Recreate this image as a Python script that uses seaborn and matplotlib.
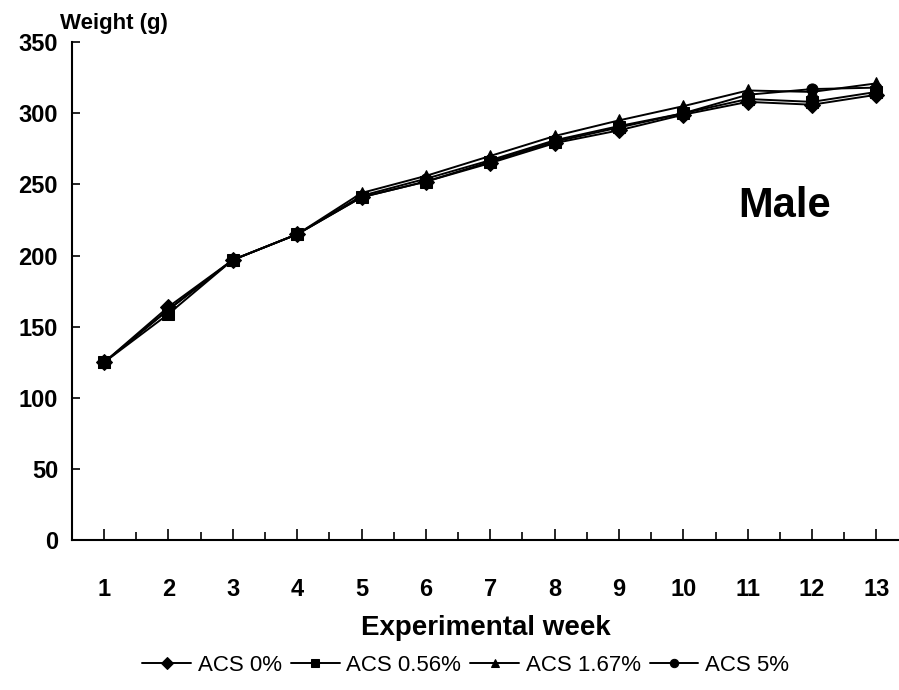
import matplotlib
matplotlib.use("Agg")
import matplotlib.pyplot as plt
import seaborn as sns
import pandas as pd

weeks = list(range(1, 14))
groups = ["ACS 0%", "ACS 0.56%", "ACS 1.67%", "ACS 5%"]
acs_0 = [125, 164, 197, 215, 241, 252, 265, 279, 288, 299, 308, 306, 313]
acs_056 = [125, 159, 197, 215, 241, 252, 266, 280, 290, 300, 310, 308, 315]
acs_167 = [125, 162, 197, 215, 244, 256, 270, 284, 295, 305, 316, 315, 321]
acs_5 = [125, 162, 197, 215, 242, 254, 267, 281, 291, 300, 313, 317, 318]
series = [acs_0, acs_056, acs_167, acs_5]
y_ticks = [0, 50, 100, 150, 200, 250, 300, 350]

rows = []
for g, vals in zip(groups, series):
    for w, v in zip(weeks, vals):
        rows.append({"week": w, "weight": v, "group": g})
df = pd.DataFrame(rows)

sns.set_style("white")
plt.rcParams["font.family"] = ["Liberation Sans", "DejaVu Sans"]
plt.rcParams["text.color"] = "black"
plt.rcParams["axes.labelcolor"] = "black"
plt.rcParams["xtick.color"] = "black"
plt.rcParams["ytick.color"] = "black"

fig = plt.figure(figsize=(8.99, 6.90), dpi=100)
ax = fig.add_axes([0.080, 0.217, 0.92, 0.722])

markers = {"ACS 0%": "D", "ACS 0.56%": "s", "ACS 1.67%": "^", "ACS 5%": "o"}
sns.lineplot(data=df, x="week", y="weight", hue="group", style="group",
             hue_order=groups, style_order=groups,
             palette=["black"] * 4, markers=markers, dashes=False,
             markersize=8, linewidth=1.4, markeredgecolor="black", ax=ax)

ax.set_xlim(0.5, 13.35)
ax.set_ylim(0, 350)
ax.set_xticks(weeks)
ax.set_xticks([w + 0.5 for w in range(0, 13)], minor=True)
ax.set_yticks(y_ticks)
ax.tick_params(axis="x", which="both", bottom=True, direction="in", length=8,
               width=1.2, pad=27, labelsize=17, colors="black")
ax.tick_params(axis="y", left=True, direction="in", length=6, width=1.2, pad=10,
               labelsize=17, colors="black")
ax.tick_params(axis="x", which="minor", length=6)
for lab in ax.get_xticklabels() + ax.get_yticklabels():
    lab.set_fontweight("bold")

for s in ["top", "right"]:
    ax.spines[s].set_visible(False)
for s in ["left", "bottom"]:
    ax.spines[s].set_color("black")
    ax.spines[s].set_linewidth(1.5)

ax.set_xlabel("Experimental week", fontsize=20, fontweight="bold", labelpad=10,
              color="black")
ax.set_ylabel("")
fig.text(0.127, 0.966, "Weight (g)", fontsize=16, fontweight="bold",
         ha="center", va="center", color="black")
ax.text(11.57, 235, "Male", fontsize=30, fontweight="bold", ha="center",
        va="center", color="black")

handles, labels = ax.get_legend_handles_labels()
leg = ax.legend(handles, labels, loc="center", bbox_to_anchor=(0.518, 0.036),
                bbox_transform=fig.transFigure, ncol=4, frameon=False,
                fontsize=16, handlelength=2.2, handletextpad=0.3,
                columnspacing=0.4, markerscale=0.75)
for t in leg.get_texts():
    t.set_color("black")

fig.savefig("out.png", dpi=100)
